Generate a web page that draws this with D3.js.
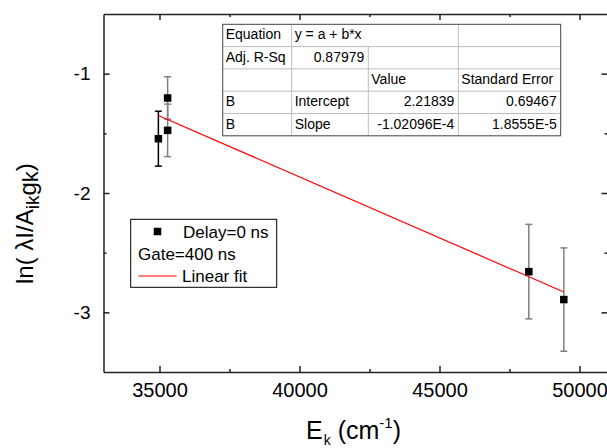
<!DOCTYPE html>
<html>
<head>
<meta charset="utf-8">
<script src="https://cdn.jsdelivr.net/npm/d3@7"></script>
<style>
  html, body { margin: 0; padding: 0; background: #fff; }
  svg { display: block; font-family: Arial, "Liberation Sans", sans-serif; }
</style>
</head>
<body>
<svg id="chart" width="607" height="448"></svg>
<script>
// Measured points: upper-level energy E_k (cm^-1) and ln(λI / A_ik g_k)
const energies = [34960, 35290, 35290, 48190, 49440];
const lnValues = [-1.545, -1.204, -1.475, -2.659, -2.893];
const lnErrors = [0.230, 0.178, 0.220, 0.396, 0.433];
const errorColors = ["#000000", "#808080", "#808080", "#808080", "#808080"];

// Linear fit results (y = a + b*x)
const fitEquation = "y = a + b*x";
const adjRSqText = "0.87979";
const paramSeries = ["B", "B"];
const paramNames = ["Intercept", "Slope"];
const paramValueText = ["2.21839", "-1.02096E-4"];
const paramErrorText = ["0.69467", "1.8555E-5"];
const intercept = +paramValueText[0];
const slope = +paramValueText[1];

// Axis ticks
const xTicks = [35000, 40000, 45000, 50000];
const xMinorTicks = [37500, 42500, 47500];
const yTicks = [-1, -2, -3];
const yMinorTicks = [-1.5, -2.5];
const xDomain = [33000, 51000];
const yDomain = [-3.5, -0.5];

// Legend entries
const legendMarkerLabel = "Delay=0 ns";
const legendNote = "Gate=400 ns";
const legendLineLabel = "Linear fit";

const svg = d3.select("#chart");
const plot = { left: 103.5, right: 607.5, top: 14, bottom: 372 };

const x = d3.scaleLinear().domain(xDomain).range([plot.left, plot.right]);
const y = d3.scaleLinear().domain(yDomain).range([plot.bottom, plot.top]);

const axisColor = "#222";
const plainNumber = d => String(d);

// Frame axes with inward ticks
function styleAxis(g) {
  g.select(".domain").attr("stroke", axisColor).attr("stroke-width", 1.5);
  g.selectAll(".tick line").attr("stroke", axisColor).attr("stroke-width", 1.5);
}

// bottom: major + minor
svg.append("g")
  .attr("transform", `translate(0,${plot.bottom})`)
  .call(d3.axisBottom(x).tickValues(xTicks).tickSizeInner(-6).tickSizeOuter(0).tickPadding(11)
    .tickFormat(plainNumber))
  .call(styleAxis)
  .call(g => g.selectAll("text").attr("font-size", 20).attr("fill", "#000")
    .attr("font-family", "Arial, 'Liberation Sans', sans-serif"));
svg.append("g")
  .attr("transform", `translate(0,${plot.bottom})`)
  .call(d3.axisBottom(x).tickValues(xMinorTicks).tickSizeInner(-3).tickSizeOuter(0).tickFormat(""))
  .call(styleAxis)
  .call(g => g.select(".domain").remove());

// top
svg.append("g")
  .attr("transform", `translate(0,${plot.top})`)
  .call(d3.axisTop(x).tickValues(xTicks).tickSizeInner(-6).tickSizeOuter(0).tickFormat(""))
  .call(styleAxis);
svg.append("g")
  .attr("transform", `translate(0,${plot.top})`)
  .call(d3.axisTop(x).tickValues(xMinorTicks).tickSizeInner(-3).tickSizeOuter(0).tickFormat(""))
  .call(styleAxis)
  .call(g => g.select(".domain").remove());

// left
svg.append("g")
  .attr("transform", `translate(${plot.left},0)`)
  .call(d3.axisLeft(y).tickValues(yTicks).tickSizeInner(-6).tickSizeOuter(0).tickPadding(13)
    .tickFormat(plainNumber))
  .call(styleAxis)
  .call(g => g.selectAll("text").attr("font-size", 19).attr("fill", "#000")
    .attr("font-family", "Arial, 'Liberation Sans', sans-serif"));
svg.append("g")
  .attr("transform", `translate(${plot.left},0)`)
  .call(d3.axisLeft(y).tickValues(yMinorTicks).tickSizeInner(-3).tickSizeOuter(0).tickFormat(""))
  .call(styleAxis)
  .call(g => g.select(".domain").remove());

// right
svg.append("g")
  .attr("transform", `translate(${plot.right},0)`)
  .call(d3.axisRight(y).tickValues(yTicks).tickSizeInner(-6).tickSizeOuter(0).tickFormat(""))
  .call(styleAxis);
svg.append("g")
  .attr("transform", `translate(${plot.right},0)`)
  .call(d3.axisRight(y).tickValues(yMinorTicks).tickSizeInner(-3).tickSizeOuter(0).tickFormat(""))
  .call(styleAxis)
  .call(g => g.select(".domain").remove());

// Axis titles
const xTitle = svg.append("text")
  .attr("x", 306).attr("y", 439)
  .attr("font-size", 25).attr("fill", "#000");
xTitle.append("tspan").text("E");
xTitle.append("tspan").attr("font-size", 14).attr("dy", 6).attr("dx", 1).text("k");
xTitle.append("tspan").attr("dy", -6).text(" (cm");
xTitle.append("tspan").attr("font-size", 15).attr("dy", -11).text("-1");
xTitle.append("tspan").attr("dy", 11).text(")");

const yTitle = svg.append("text")
  .attr("transform", "translate(33,284) rotate(-90)")
  .attr("font-size", 24).attr("fill", "#000");
yTitle.append("tspan").text("ln(  λI/A");
yTitle.append("tspan").attr("font-size", 19).attr("dy", 6).text("ik");
yTitle.append("tspan").attr("font-size", 24).attr("dy", -3).text("g");
yTitle.append("tspan").attr("font-size", 22).attr("dy", 2).text("k");
yTitle.append("tspan").attr("font-size", 24).attr("dy", -5).text(")");

// Error bars
const points = energies.map((e, i) => ({ e, v: lnValues[i], err: lnErrors[i], c: errorColors[i] }));
const capHalf = 3.5;
const eb = svg.append("g").attr("class", "error-bars");
points.forEach(p => {
  const g = eb.append("g").attr("stroke", p.c).attr("stroke-width", 1.5);
  g.append("line").attr("x1", x(p.e)).attr("x2", x(p.e))
    .attr("y1", y(p.v + p.err)).attr("y2", y(p.v - p.err));
  [p.v + p.err, p.v - p.err].forEach(t => {
    g.append("line").attr("x1", x(p.e) - capHalf).attr("x2", x(p.e) + capHalf)
      .attr("y1", y(t)).attr("y2", y(t));
  });
});

// Fitted line across the data range
const fitX = d3.extent(energies);
svg.append("path")
  .datum(fitX.map(e => [e, intercept + slope * e]))
  .attr("d", d3.line().x(d => x(d[0])).y(d => y(d[1])))
  .attr("stroke", "#ff0000").attr("stroke-width", 1.2).attr("fill", "none");

// Square markers
const ms = 7.5;
svg.append("g").selectAll("rect").data(points).join("rect")
  .attr("x", d => x(d.e) - ms / 2).attr("y", d => y(d.v) - ms / 2)
  .attr("width", ms).attr("height", ms).attr("fill", "#000");

// Fit results table
const cols = [222.7, 291.7, 368.3, 458.3, 560.7];
const tTop = 24.3, rowH = 22.3;
const tableRows = [
  [{ t: "Equation", c: 0, a: "l" }, { t: fitEquation, c: 1, span: 2, a: "l" }, { t: "", c: 3 }],
  [{ t: "Adj. R-Sq", c: 0, a: "l" }, { t: adjRSqText, c: 1, a: "r" }, { t: "", c: 2 }, { t: "", c: 3 }],
  [{ t: "", c: 0 }, { t: "", c: 1 }, { t: "Value", c: 2, a: "l" }, { t: "Standard Error", c: 3, a: "l" }],
  ...paramNames.map((n, i) => [
    { t: paramSeries[i], c: 0, a: "l" }, { t: n, c: 1, a: "l" },
    { t: paramValueText[i], c: 2, a: "r" }, { t: paramErrorText[i], c: 3, a: "r" }
  ])
];
const table = svg.append("g").attr("class", "fit-table");
table.append("rect")
  .attr("x", cols[0]).attr("y", tTop)
  .attr("width", cols[4] - cols[0]).attr("height", rowH * tableRows.length)
  .attr("fill", "#fff");
const gridColor = "#bdbdbd";
tableRows.forEach((row, r) => {
  const top = tTop + r * rowH;
  if (r > 0) {
    table.append("line").attr("x1", cols[0]).attr("x2", cols[4])
      .attr("y1", top).attr("y2", top).attr("stroke", gridColor).attr("stroke-width", 1);
  }
  row.forEach(cell => {
    const x0 = cols[cell.c], x1 = cols[cell.c + (cell.span || 1)];
    if (cell.c > 0) {
      table.append("line").attr("x1", x0).attr("x2", x0)
        .attr("y1", top).attr("y2", top + rowH).attr("stroke", gridColor).attr("stroke-width", 1);
    }
    if (cell.t) {
      table.append("text")
        .attr("x", cell.a === "r" ? x1 - 4 : x0 + 3)
        .attr("y", top + 15)
        .attr("text-anchor", cell.a === "r" ? "end" : "start")
        .attr("font-size", 14).attr("fill", "#000")
        .text(cell.t);
    }
  });
});
table.append("rect")
  .attr("x", cols[0]).attr("y", tTop)
  .attr("width", cols[4] - cols[0]).attr("height", rowH * tableRows.length)
  .attr("fill", "none").attr("stroke", "#444").attr("stroke-width", 1);

// Legend
const lg = svg.append("g").attr("class", "legend");
lg.append("rect").attr("x", 130.7).attr("y", 219.3).attr("width", 146).attr("height", 68)
  .attr("fill", "#fff").attr("stroke", "#000").attr("stroke-width", 1);
lg.append("rect").attr("x", 157.5 - ms / 2).attr("y", 231.5 - ms / 2)
  .attr("width", ms).attr("height", ms).attr("fill", "#000");
lg.append("text").attr("x", 183).attr("y", 238).attr("font-size", 17).text(legendMarkerLabel);
lg.append("text").attr("x", 138).attr("y", 260).attr("font-size", 17).text(legendNote);
lg.append("line").attr("x1", 138.3).attr("x2", 176.7).attr("y1", 276).attr("y2", 276)
  .attr("stroke", "#ff0000").attr("stroke-width", 1.2);
lg.append("text").attr("x", 182).attr("y", 282).attr("font-size", 17).text(legendLineLabel);
</script>
</body>
</html>
